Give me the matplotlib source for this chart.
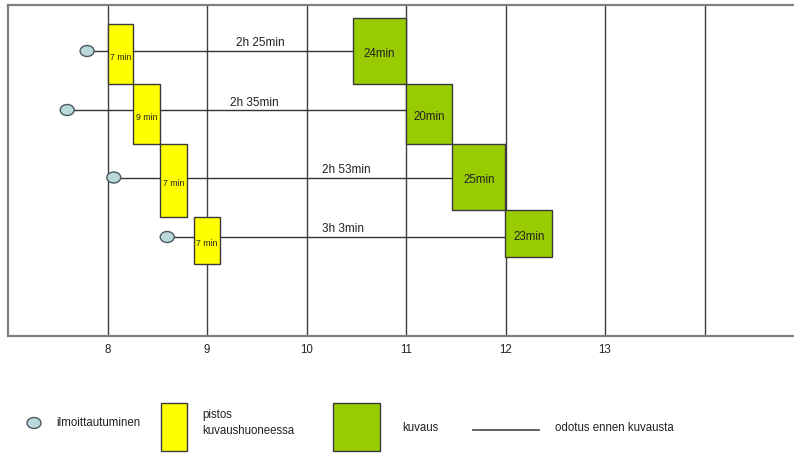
import matplotlib
matplotlib.use("Agg")
import matplotlib.pyplot as plt
from matplotlib.patches import Ellipse, Rectangle

plt.rcParams['font.family'] = ['Liberation Sans', 'DejaVu Sans']

# ---- data (hours of the day) ----
arrival = [7.795, 7.595, 8.063, 8.60]          # ilmoittautuminen
prep_start = [8.00, 8.258, 8.53, 8.867]       # pistos kuvaushuoneessa
prep_end = [8.258, 8.53, 8.797, 9.135]
prep_labels = ["7 min", "9 min", "7 min", "7 min"]
shoot_start = [10.465, 11.005, 11.467, 11.996]  # kuvaus
shoot_end = [11.005, 11.467, 11.996, 12.47]
shoot_labels = ["24min", "20min", "25min", "23min"]
wait_labels = ["2h 25min", "2h 35min", "2h 53min", "3h 3min"]  # odotus
wait_label_x = [9.29, 9.23, 10.16, 10.16]

# vertical layout of the rows (arbitrary units, 0 = bottom of frame)
row_line = [285, 226, 158.5, 99]
prep_bottom = [252, 192, 119, 72]
prep_top = [312, 252, 192, 119]
shoot_bottom = [252, 192, 126, 79]
shoot_top = [318.5, 252, 192, 126]

tick_hours = [8, 9, 10, 11, 12, 13]
grid_hours = [8, 9, 10, 11, 12, 13, 14]

legend_labels = ["ilmoittautuminen", "pistos\nkuvaushuoneessa", "kuvaus", "odotus ennen kuvausta"]

YELLOW = "#ffff00"
GREEN = "#99cc00"
CIRCLE = "#b9d8da"
EDGE = "#3a3a3a"
TXT = "#222222"

W, H = 794, 453
fig = plt.figure(figsize=(W / 100, H / 100), dpi=100)
fig.patch.set_facecolor("white")

ax = fig.add_axes([8 / W, (H - 336) / H, (805 - 8) / W, 331 / H])
x0 = 7.0
px_per_h = 99.5
ax.set_xlim(x0, x0 + 797 / px_per_h)
ax.set_ylim(0, 331)
for s in ax.spines.values():
    s.set_color("#808080")
    s.set_linewidth(1.6)
ax.set_yticks([])
ax.set_xticks(tick_hours)
ax.set_xticklabels([str(h) for h in tick_hours], fontsize=8.3, color=TXT)
ax.tick_params(axis='x', length=0, pad=6)

for g in grid_hours:
    ax.axvline(g, color="#404040", lw=1.0, zorder=1)

for i in range(len(arrival)):
    # waiting line
    ax.plot([arrival[i], shoot_start[i]], [row_line[i]] * 2, color="#333333", lw=1.0, zorder=2)
    # prep box
    ax.add_patch(Rectangle((prep_start[i], prep_bottom[i]), prep_end[i] - prep_start[i],
                           prep_top[i] - prep_bottom[i], facecolor=YELLOW, edgecolor=EDGE,
                           lw=1.0, zorder=3))
    ax.text((prep_start[i] + prep_end[i]) / 2, (prep_top[i] + prep_bottom[i]) / 2 - 3,
            prep_labels[i], fontsize=6.3, color=TXT, ha='center', va='center', zorder=4)
    # shoot box
    ax.add_patch(Rectangle((shoot_start[i], shoot_bottom[i]), shoot_end[i] - shoot_start[i],
                           shoot_top[i] - shoot_bottom[i], facecolor=GREEN, edgecolor=EDGE,
                           lw=1.0, zorder=3))
    ax.text((shoot_start[i] + shoot_end[i]) / 2, (shoot_top[i] + shoot_bottom[i]) / 2 - 3,
            shoot_labels[i], fontsize=8.3, color=TXT, ha='center', va='center', zorder=4)
    # arrival circle
    ax.add_patch(Ellipse((arrival[i], row_line[i]), 14 / px_per_h, 11, facecolor=CIRCLE,
                         edgecolor="#4a5a60", lw=1.0, zorder=4))
    # waiting label
    ax.text(wait_label_x[i], row_line[i] + 1.5, wait_labels[i], fontsize=8.5, color=TXT,
            ha='left', va='bottom', zorder=4)

# ---- legend (overlay in pixel coords) ----
lg = fig.add_axes([0, 0, 1, 1], facecolor="none")
lg.set_xlim(0, W)
lg.set_ylim(H, 0)
lg.axis("off")
lg.add_patch(Ellipse((34, 423), 14, 11, facecolor=CIRCLE, edgecolor="#4a5a60", lw=1.0))
lg.text(56, 423, legend_labels[0], fontsize=8.3, color=TXT, va='center', ha='left')
lg.add_patch(Rectangle((161, 403), 26, 48, facecolor=YELLOW, edgecolor=EDGE, lw=1.0))
lg.text(202, 423, legend_labels[1], fontsize=8.3, color=TXT, va='center', ha='left',
        linespacing=1.4)
lg.add_patch(Rectangle((333, 403), 47, 48, facecolor=GREEN, edgecolor=EDGE, lw=1.0))
lg.text(402, 428, legend_labels[2], fontsize=8.3, color=TXT, va='center', ha='left')
lg.plot([473, 539], [430, 430], color="#555555", lw=1.3)
lg.text(555, 428, legend_labels[3], fontsize=8.3, color=TXT, va='center', ha='left')

fig.savefig("out.png", dpi=100, facecolor="white")
